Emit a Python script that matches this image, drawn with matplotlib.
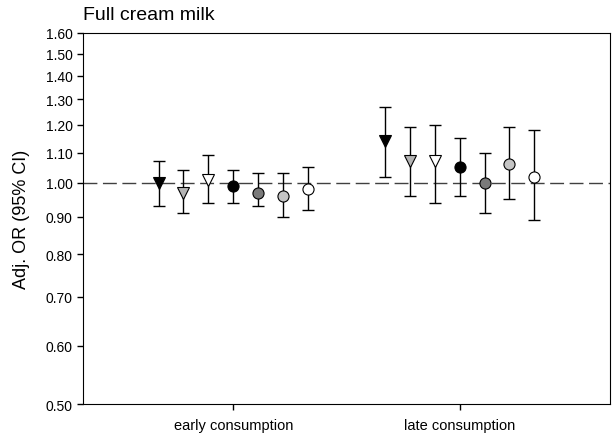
import numpy as np
import matplotlib.pyplot as plt
from matplotlib.ticker import FixedLocator, FormatStrFormatter, NullLocator

plt.rcParams['font.family'] = ['Liberation Sans', 'DejaVu Sans']

# groups and estimates (7 models per group)
groups = ['early consumption', 'late consumption']
or_early = [1.00, 0.97, 1.01, 0.99, 0.97, 0.96, 0.98]
lo_early = [0.93, 0.91, 0.94, 0.94, 0.93, 0.90, 0.92]
hi_early = [1.07, 1.04, 1.09, 1.04, 1.03, 1.03, 1.05]
or_late = [1.14, 1.07, 1.07, 1.05, 1.00, 1.06, 1.02]
lo_late = [1.02, 0.96, 0.94, 0.96, 0.91, 0.95, 0.89]
hi_late = [1.27, 1.19, 1.20, 1.15, 1.10, 1.19, 1.18]
yticks = [0.5, 0.6, 0.7, 0.8, 0.9, 1.0, 1.1, 1.2, 1.3, 1.4, 1.5, 1.6]

# marker styles for the 7 models
markers = ['v', 'v', 'v', 'o', 'o', 'o', 'o']
fills = ['black', '#b4b4b4', 'white', 'black', '#7a7a7a', '#c4c4c4', 'white']

fig = plt.figure(figsize=(6.12, 4.39), dpi=100)
ax = fig.add_axes([0.1356, 0.0774, 0.861, 0.8452])

ax.axhline(1.0, color='#404040', lw=1, dashes=(10, 4), zorder=1)

step = 0.11
for g, (ors, los, his) in enumerate([(or_early, lo_early, hi_early),
                                      (or_late, lo_late, hi_late)]):
    for k in range(7):
        x = g + 1 + (k - 3) * step
        y = ors[k]
        ax.errorbar(x, y, yerr=[[y - los[k]], [his[k] - y]], fmt='none',
                    ecolor='black', elinewidth=1, capsize=4, capthick=1, zorder=2)
        ax.plot(x, y, marker=markers[k], ms=8, mfc=fills[k], mec='black',
                mew=0.8, ls='none', zorder=3)

ax.set_yscale('log')
ax.set_ylim(0.5, 1.6)
ax.yaxis.set_major_locator(FixedLocator(yticks))
ax.yaxis.set_major_formatter(FormatStrFormatter('%.2f'))
ax.yaxis.set_minor_locator(NullLocator())
ax.set_xlim(0.336, 2.664)
ax.set_xticks([1, 2])
ax.set_xticklabels(groups)
ax.tick_params(axis='both', labelsize=10, direction='out', length=4, width=1)
ax.tick_params(axis='x', labelsize=10.5, pad=6)
ax.set_ylabel('Adj. OR (95% CI)', fontsize=13, labelpad=11)
ax.set_title('Full cream milk', loc='left', fontsize=14, pad=10)

plt.savefig('out.png', dpi=100)
